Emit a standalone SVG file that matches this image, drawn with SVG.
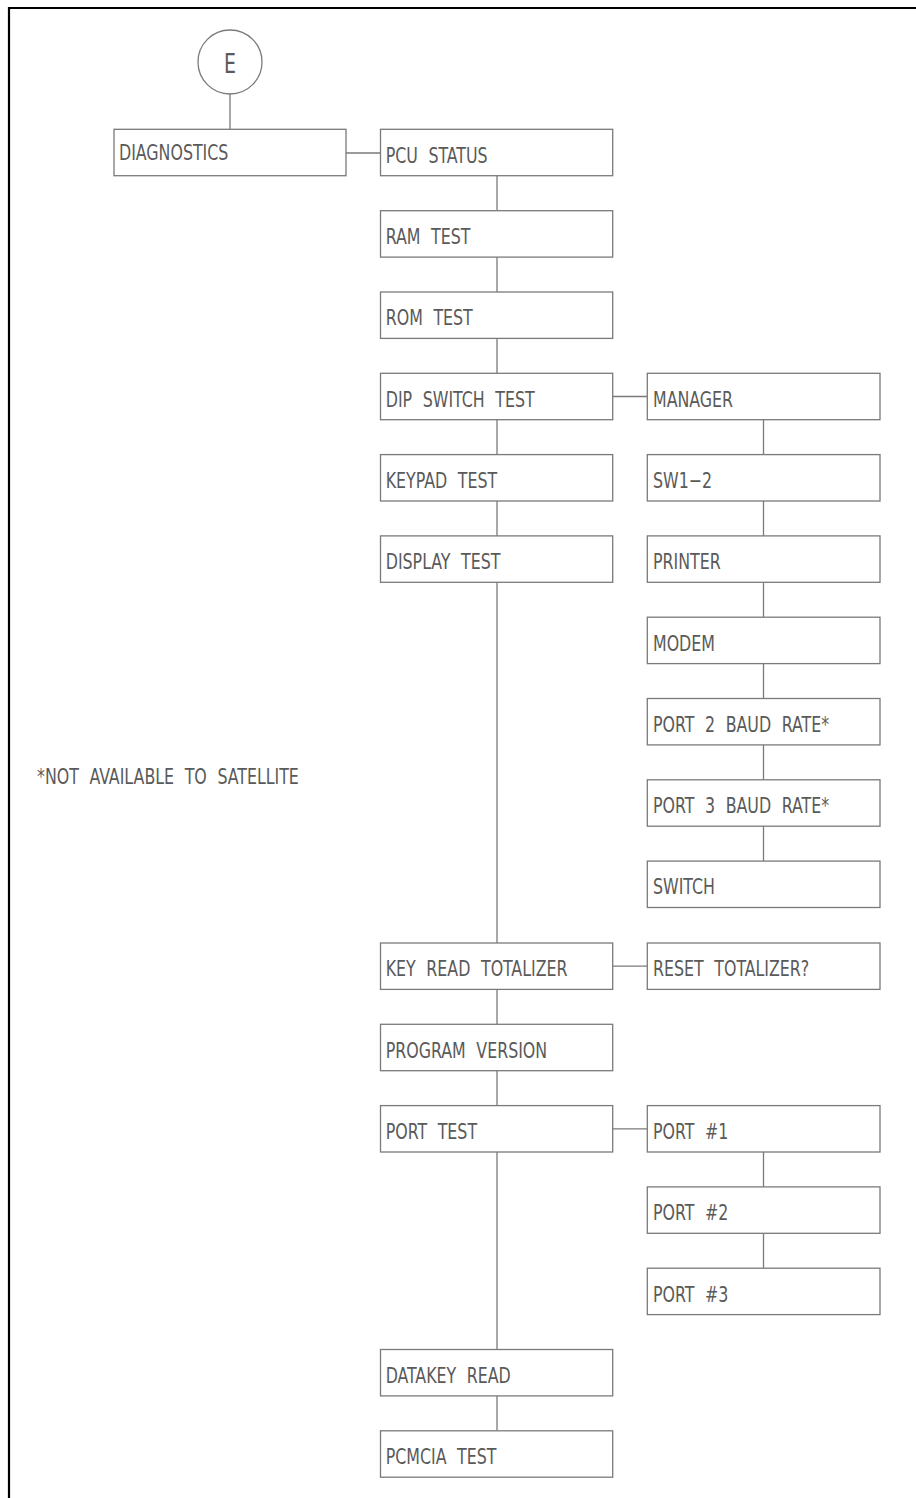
<svg xmlns="http://www.w3.org/2000/svg" width="916" height="1498" viewBox="0 0 916 1498">
<style>
.box{fill:#fff;stroke:#7a7a7a;stroke-width:1.3}
.ln{stroke:#7a7a7a;stroke-width:1.3;fill:none}
.t{font-family:"DejaVu Sans Condensed","DejaVu Sans",sans-serif;font-size:22px;fill:#5a5a5a;word-spacing:7px}
.frame{stroke:#000;stroke-width:2.2;fill:none}
</style>
<rect width="916" height="1498" fill="#fff"/>
<path class="frame" d="M9,1498 V8 H916"/>
<g id="connectors">
<line class="ln" x1="230" y1="94" x2="230" y2="129.3"/>
<line class="ln" x1="346" y1="153" x2="380.5" y2="153"/>
<line class="ln" x1="497" y1="175.7" x2="497" y2="210.7"/>
<line class="ln" x1="497" y1="257" x2="497" y2="292"/>
<line class="ln" x1="497" y1="338.3" x2="497" y2="373.3"/>
<line class="ln" x1="497" y1="419.6" x2="497" y2="454.6"/>
<line class="ln" x1="497" y1="500.9" x2="497" y2="535.9"/>
<line class="ln" x1="497" y1="582.2" x2="497" y2="943"/>
<line class="ln" x1="497" y1="989.3" x2="497" y2="1024.3"/>
<line class="ln" x1="497" y1="1070.6" x2="497" y2="1105.6"/>
<line class="ln" x1="497" y1="1151.9" x2="497" y2="1349.5"/>
<line class="ln" x1="497" y1="1395.8" x2="497" y2="1430.8"/>
<line class="ln" x1="612.7" y1="396.5" x2="647.3" y2="396.5"/>
<line class="ln" x1="612.7" y1="966.2" x2="647.3" y2="966.2"/>
<line class="ln" x1="612.7" y1="1128.8" x2="647.3" y2="1128.8"/>
<line class="ln" x1="763.5" y1="419.6" x2="763.5" y2="454.6"/>
<line class="ln" x1="763.5" y1="500.9" x2="763.5" y2="535.9"/>
<line class="ln" x1="763.5" y1="582.2" x2="763.5" y2="617.2"/>
<line class="ln" x1="763.5" y1="663.5" x2="763.5" y2="698.5"/>
<line class="ln" x1="763.5" y1="744.8" x2="763.5" y2="779.8"/>
<line class="ln" x1="763.5" y1="826.1" x2="763.5" y2="861.1"/>
<line class="ln" x1="763.5" y1="1151.9" x2="763.5" y2="1186.9"/>
<line class="ln" x1="763.5" y1="1233.2" x2="763.5" y2="1268.2"/>
</g>
<g id="E"><circle class="box" cx="230" cy="62" r="32"/><text class="t" transform="translate(230 73) scale(0.78 1)" text-anchor="middle" style="font-size:27px">E</text></g>
<g id="diagnostics"><rect class="box" x="114" y="129.3" width="232" height="46.4"/><text class="t" transform="translate(119 159.5) scale(0.8 1)">DIAGNOSTICS</text></g>
<g id="pcu-status"><rect class="box" x="380.5" y="129.3" width="232.2" height="46.4"/><text class="t" transform="translate(385.7 162.7) scale(0.8 1)">PCU STATUS</text></g>
<g id="ram-test"><rect class="box" x="380.5" y="210.7" width="232.2" height="46.4"/><text class="t" transform="translate(385.7 244) scale(0.8 1)">RAM TEST</text></g>
<g id="rom-test"><rect class="box" x="380.5" y="292" width="232.2" height="46.4"/><text class="t" transform="translate(385.7 325.3) scale(0.8 1)">ROM TEST</text></g>
<g id="dip-switch-test"><rect class="box" x="380.5" y="373.3" width="232.2" height="46.4"/><text class="t" transform="translate(385.7 406.6) scale(0.8 1)">DIP SWITCH TEST</text></g>
<g id="keypad-test"><rect class="box" x="380.5" y="454.6" width="232.2" height="46.4"/><text class="t" transform="translate(385.7 487.9) scale(0.8 1)">KEYPAD TEST</text></g>
<g id="display-test"><rect class="box" x="380.5" y="535.9" width="232.2" height="46.4"/><text class="t" transform="translate(385.7 569.2) scale(0.8 1)">DISPLAY TEST</text></g>
<g id="key-read-totalizer"><rect class="box" x="380.5" y="943" width="232.2" height="46.4"/><text class="t" transform="translate(385.7 976.3) scale(0.8 1)">KEY READ TOTALIZER</text></g>
<g id="program-version"><rect class="box" x="380.5" y="1024.3" width="232.2" height="46.4"/><text class="t" transform="translate(385.7 1057.6) scale(0.8 1)">PROGRAM VERSION</text></g>
<g id="port-test"><rect class="box" x="380.5" y="1105.6" width="232.2" height="46.4"/><text class="t" transform="translate(385.7 1138.9) scale(0.8 1)">PORT TEST</text></g>
<g id="datakey-read"><rect class="box" x="380.5" y="1349.5" width="232.2" height="46.4"/><text class="t" transform="translate(385.7 1382.8) scale(0.8 1)">DATAKEY READ</text></g>
<g id="pcmcia-test"><rect class="box" x="380.5" y="1430.8" width="232.2" height="46.4"/><text class="t" transform="translate(385.7 1464.1) scale(0.8 1)">PCMCIA TEST</text></g>
<g id="manager"><rect class="box" x="647.3" y="373.3" width="232.7" height="46.4"/><text class="t" transform="translate(653 406.6) scale(0.8 1)">MANAGER</text></g>
<g id="sw1-2"><rect class="box" x="647.3" y="454.6" width="232.7" height="46.4"/><text class="t" transform="translate(653 487.9) scale(0.8 1)">SW1−2</text></g>
<g id="printer"><rect class="box" x="647.3" y="535.9" width="232.7" height="46.4"/><text class="t" transform="translate(653 569.2) scale(0.8 1)">PRINTER</text></g>
<g id="modem"><rect class="box" x="647.3" y="617.2" width="232.7" height="46.4"/><text class="t" transform="translate(653 650.5) scale(0.8 1)">MODEM</text></g>
<g id="port2-baud"><rect class="box" x="647.3" y="698.5" width="232.7" height="46.4"/><text class="t" transform="translate(653 731.8) scale(0.8 1)">PORT 2 BAUD RATE*</text></g>
<g id="port3-baud"><rect class="box" x="647.3" y="779.8" width="232.7" height="46.4"/><text class="t" transform="translate(653 813.1) scale(0.8 1)">PORT 3 BAUD RATE*</text></g>
<g id="switch"><rect class="box" x="647.3" y="861.1" width="232.7" height="46.4"/><text class="t" transform="translate(653 894.4) scale(0.8 1)">SWITCH</text></g>
<g id="reset-totalizer"><rect class="box" x="647.3" y="943" width="232.7" height="46.4"/><text class="t" transform="translate(653 976.3) scale(0.8 1)">RESET TOTALIZER?</text></g>
<g id="port1"><rect class="box" x="647.3" y="1105.6" width="232.7" height="46.4"/><text class="t" transform="translate(653 1138.9) scale(0.8 1)">PORT #1</text></g>
<g id="port2"><rect class="box" x="647.3" y="1186.9" width="232.7" height="46.4"/><text class="t" transform="translate(653 1220.2) scale(0.8 1)">PORT #2</text></g>
<g id="port3"><rect class="box" x="647.3" y="1268.2" width="232.7" height="46.4"/><text class="t" transform="translate(653 1301.5) scale(0.8 1)">PORT #3</text></g>
<g id="note"><text class="t" transform="translate(37 783.5) scale(0.8 1)">*NOT AVAILABLE TO SATELLITE</text></g>
</svg>
